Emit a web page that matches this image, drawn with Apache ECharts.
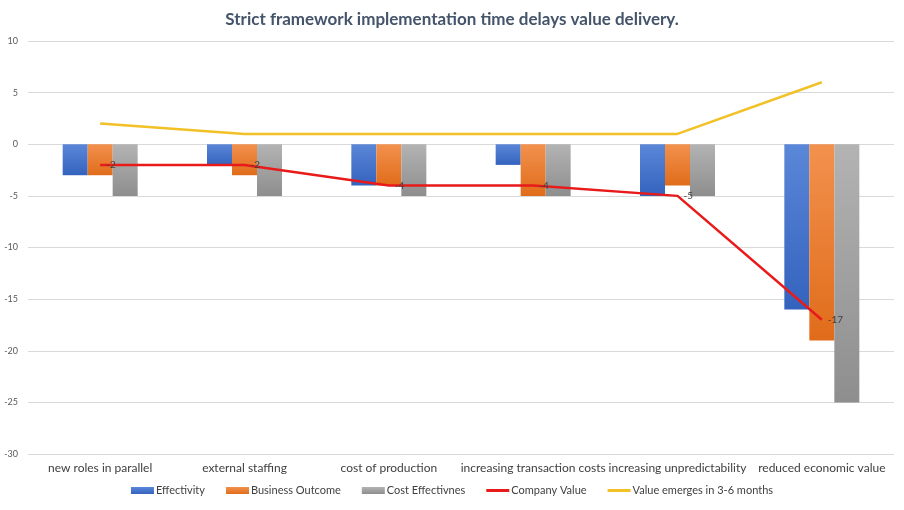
<!DOCTYPE html>
<html><head><meta charset="utf-8">
<script src="https://cdn.jsdelivr.net/npm/echarts@6/dist/echarts.min.js"></script>
<style>html,body{margin:0;padding:0;background:#fff}#c{width:904px;height:510px}</style>
</head><body><div id="c"></div>
<script>
const categories = ["new roles in parallel","external staffing","cost of production","increasing transaction costs","increasing unpredictability","reduced economic value"];
const effectivity = [-3,-2,-4,-2,-5,-16];
const businessOutcome = [-3,-3,-4,-5,-4,-19];
const costEffectivnes = [-5,-5,-5,-5,-5,-25];
const companyValue = [-2,-2,-4,-4,-5,-17];
const valueEmerges = [2,1,1,1,1,6];
const yTicks = {min:-30,max:10,interval:5};

function grad(a,b){return new echarts.graphic.LinearGradient(0,0,0,1,[{offset:0,color:a},{offset:1,color:b}]);}
const font = 'Lato, "Open Sans", sans-serif';
const lineIcon = 'path://M0 2H23V5H0Z M0 0H0.05V0.05H0Z M22.95 6.95H23V7H22.95Z';
const chart = echarts.init(document.getElementById('c'),null,{renderer:'canvas'});
chart.setOption({
  animation:false,
  textStyle:{fontFamily:font},
  title:{text:'Strict framework implementation time delays value delivery.',left:'center',top:6,
    textStyle:{fontFamily:font,fontSize:17,fontWeight:'bold',color:'#44546a'}},
  grid:{left:28,right:10,top:41,bottom:56,containLabel:false},
  legend:{bottom:9,left:'center',itemWidth:23,itemHeight:7,itemGap:21,
    textStyle:{fontFamily:font,fontSize:11,color:'#404040',padding:[0,0,0,-3]},
    data:[{name:'Effectivity',icon:'rect'},{name:'Business Outcome',icon:'rect'},{name:'Cost Effectivnes',icon:'rect'},
      {name:'Company Value',icon:lineIcon,itemStyle:{color:'#e81a1a'}},{name:'Value emerges in 3-6 months',icon:lineIcon,itemStyle:{color:'#f2c027'}}]},
  xAxis:{type:'category',data:categories,position:'bottom',
    axisLine:{show:false},axisTick:{show:false},
    axisLabel:{interval:0,fontSize:12,color:'#404040',fontFamily:font,margin:8}},
  yAxis:{type:'value',min:yTicks.min,max:yTicks.max,interval:yTicks.interval,
    axisLine:{show:false},axisTick:{show:false},
    axisLabel:{fontSize:9,color:'#595959',margin:10},
    splitLine:{lineStyle:{color:'#d9d9d9',width:1}}},
  series:[
    {name:'Effectivity',type:'bar',data:effectivity,barWidth:25,barGap:'0%',
      itemStyle:{color:grad('#5b87d8','#3463be')}},
    {name:'Business Outcome',type:'bar',data:businessOutcome,barWidth:25,barGap:'0%',
      itemStyle:{color:grad('#f2914e','#e06c1a')}},
    {name:'Cost Effectivnes',type:'bar',data:costEffectivnes,barWidth:25,barGap:'0%',
      itemStyle:{color:grad('#b3b3b3','#8e8e8e')}},
    {name:'Company Value',type:'line',data:companyValue,symbol:'circle',symbolSize:0,showSymbol:true,
      lineStyle:{color:'#e81a1a',width:2.5},itemStyle:{color:'#e81a1a'},
      label:{show:true,position:'right',distance:6,fontSize:10,color:'#404040'},z:5},
    {name:'Value emerges in 3-6 months',type:'line',data:valueEmerges,symbol:'none',
      lineStyle:{color:'#f2c027',width:2.5},itemStyle:{color:'#f2c027'},z:4}
  ]
});
</script></body></html>
